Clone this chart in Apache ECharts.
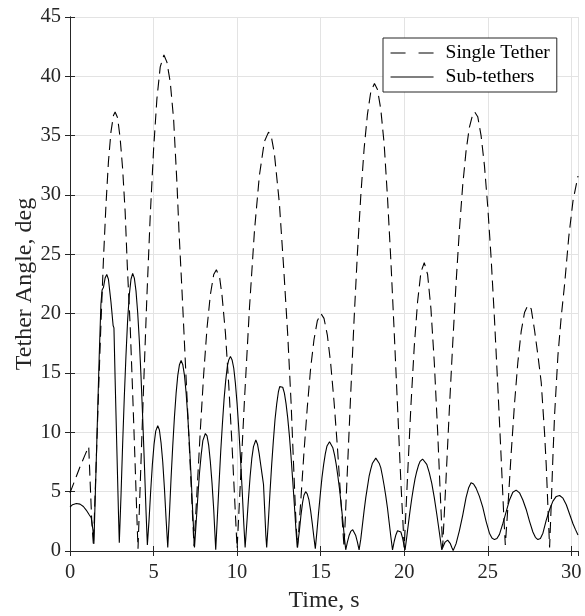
<!DOCTYPE html>
<html>
<head>
<meta charset="utf-8">
<script src="https://cdn.jsdelivr.net/npm/echarts@6/dist/echarts.min.js"></script>
<style>
html,body{margin:0;padding:0;background:#fff;}
#chart{width:585px;height:616px;}
</style>
</head>
<body>
<div id="chart"></div>
<script>
// Time (s) and tether angle (deg) pairs
var singleTether = [
[0,4.9],[0.3,6.0],[0.6,7.1],[0.9,8.1],[1.12,8.8],[1.2,6.0],[1.3,2.6],[1.4,0.5],
[1.55,6.7],[1.7,13.1],[1.85,19.1],[2.0,24.5],[2.15,29.1],[2.3,32.8],[2.45,35.3],[2.6,36.7],[2.7,37.0],
[2.85,36.5],[3.0,34.8],[3.15,32.2],[3.3,28.6],[3.43,24.0],[3.6,19.0],[3.75,13.3],[3.9,7.2],[4.0,3.0],[4.07,0.2],
[4.2,5.5],[4.4,13.7],[4.6,21.4],[4.8,28.2],[5.0,33.8],[5.2,38.1],[5.4,40.8],[5.62,41.8],
[5.8,41.2],[6.0,39.5],[6.2,36.4],[6.4,31.0],[6.52,27.0],[6.7,22.0],[6.9,16.0],[7.1,10.0],[7.3,4.0],[7.42,0.4],
[7.6,5.0],[7.8,10.2],[8.0,14.9],[8.2,18.8],[8.4,21.6],[8.6,23.3],[8.76,23.7],[8.96,23.0],[9.1,21.5],[9.3,18.4],[9.5,14.0],[9.7,8.8],[9.85,4.5],[10.0,0.2],
[10.2,5.9],[10.44,12.7],[10.74,20.5],[11.04,27.0],[11.33,31.6],[11.63,34.5],[11.88,35.3],[12.05,34.9],[12.23,33.5],[12.53,29.3],[12.79,23.8],[13.03,18.2],[13.23,12.5],[13.39,6.9],[13.53,2.2],[13.62,0.3],
[13.8,4.0],[14.0,8.3],[14.2,12.1],[14.4,15.4],[14.6,17.8],[14.8,19.4],[15.02,20.0],[15.2,19.6],[15.4,18.2],[15.6,15.8],[15.8,12.6],[16.0,8.8],[16.2,4.5],[16.4,0.3],
[16.6,6.8],[16.8,13.3],[17.0,19.5],[17.2,25.1],[17.4,29.9],[17.6,33.9],[17.8,36.8],[18.0,38.7],[18.22,39.4],[18.4,38.9],[18.6,37.2],[18.8,34.3],[19.0,29.8],[19.2,24.5],[19.4,18.5],[19.6,12.2],[19.8,5.8],[20.0,0.3],
[20.2,6.3],[20.4,12.2],[20.6,17.2],[20.8,21.0],[21.0,23.5],[21.2,24.3],[21.4,23.3],[21.6,20.4],[21.8,15.9],[22.0,10.1],[22.15,5.1],[22.3,0.3],
[22.5,6.0],[22.7,11.9],[22.9,17.4],[23.1,22.5],[23.3,27.0],[23.5,30.8],[23.7,33.7],[23.9,35.7],[24.1,36.8],[24.22,37.0],[24.4,36.6],[24.6,35.0],[24.8,32.5],[25.0,29.0],[25.2,24.7],[25.4,19.6],[25.6,13.9],[25.8,7.9],[25.95,3.2],[26.05,0.5],
[26.2,3.6],[26.4,8.2],[26.6,12.4],[26.8,15.9],[27.0,18.5],[27.2,20.1],[27.4,20.7],[27.6,20.4],[27.8,18.6],[28.0,16.5],[28.2,14.2],[28.4,9.9],[28.5,7.2],[28.6,3.7],[28.7,0.3],
[28.8,4.0],[28.9,8.0],[29.0,11.5],[29.2,16.5],[29.4,19.8],[29.6,22.5],[29.85,26.5],[30.1,29.5],[30.4,31.6]
];

var subTethers = [
[0,3.7],[0.15,3.9],[0.38,4.0],[0.6,3.95],[0.8,3.75],[0.97,3.45],[1.15,3.05],[1.27,2.8],[1.37,1.8],[1.43,0.6],
[1.55,6.5],[1.65,11.5],[1.75,16.5],[1.85,20.8],[1.92,22.0],[2.0,22.2],[2.1,23.0],[2.2,23.3],[2.3,22.9],[2.45,21.0],[2.58,19.0],[2.63,18.8],[2.7,14.5],[2.8,8.8],[2.9,3.2],[2.95,0.7],
[3.05,4.6],[3.15,9.0],[3.25,13.0],[3.35,16.5],[3.45,19.5],[3.55,21.6],[3.65,22.9],[3.75,23.4],[3.85,23.0],[3.95,21.9],[4.05,20.1],[4.15,17.7],[4.25,14.7],[4.35,11.2],[4.45,7.4],[4.55,3.3],[4.63,0.5],
[4.73,2.6],[4.83,5.1],[4.93,7.3],[5.03,9.0],[5.13,10.1],[5.25,10.55],[5.35,10.2],[5.45,9.1],[5.55,7.5],[5.65,5.3],[5.75,2.7],[5.85,0.3],
[5.95,3.1],[6.05,6.2],[6.15,8.9],[6.25,11.3],[6.35,13.3],[6.45,14.8],[6.55,15.7],[6.65,16.05],[6.75,15.7],[6.85,14.8],[6.95,13.3],[7.05,11.3],[7.15,8.9],[7.25,6.2],[7.35,3.1],[7.45,0.3],
[7.55,2.4],[7.65,4.6],[7.75,6.6],[7.85,8.1],[7.95,9.3],[8.1,9.9],[8.2,9.7],[8.3,8.9],[8.4,7.5],[8.5,5.7],[8.6,3.5],[8.72,0.1],
[8.82,2.9],[8.92,5.7],[9.02,8.4],[9.12,10.7],[9.22,12.8],[9.32,14.4],[9.42,15.6],[9.5,16.1],[9.6,16.4],[9.7,16.1],[9.8,15.4],[9.9,14.1],[10.0,12.4],[10.1,10.3],[10.2,7.9],[10.3,5.2],[10.4,2.3],[10.48,0.3],
[10.58,2.3],[10.68,4.4],[10.78,6.3],[10.88,7.8],[10.98,8.8],[11.12,9.35],[11.22,9.0],[11.32,8.2],[11.42,7.2],[11.52,6.2],[11.58,5.6],[11.65,3.5],[11.72,1.3],[11.77,0.3],
[11.87,2.5],[11.97,5.0],[12.07,7.3],[12.17,9.3],[12.27,11.1],[12.37,12.4],[12.47,13.4],[12.55,13.85],[12.63,14.0],[12.73,13.8],[12.83,13.3],[12.93,12.4],[13.03,11.2],[13.13,9.7],[13.23,7.9],[13.33,5.9],[13.43,3.8],[13.53,1.6],[13.6,0.3],
[13.72,1.6],[13.82,3.0],[13.92,4.1],[14.0,4.7],[14.1,5.0],[14.2,4.8],[14.3,4.3],[14.4,3.4],[14.5,2.3],[14.6,1.1],[14.68,0.2],
[14.78,1.7],[14.88,3.3],[14.98,4.8],[15.08,6.2],[15.18,7.3],[15.28,8.2],[15.38,8.85],[15.53,9.2],[15.63,9.1],[15.73,8.7],[15.83,8.1],[15.93,7.3],[16.03,6.3],[16.13,5.2],[16.23,3.9],[16.33,2.5],[16.43,1.0],[16.5,0.1],
[16.6,0.75],[16.7,1.3],[16.8,1.65],[16.92,1.8],[17.0,1.7],[17.1,1.3],[17.2,0.75],[17.3,0.1],
[17.4,1.0],[17.5,2.2],[17.6,3.4],[17.7,4.5],[17.8,5.4],[17.9,6.3],[18.0,6.9],[18.1,7.4],[18.3,7.83],[18.4,7.7],[18.5,7.4],[18.6,7.0],[18.7,6.3],[18.8,5.5],[18.9,4.6],[19.0,3.6],[19.1,2.4],[19.2,1.2],[19.3,0.1],
[19.4,0.8],[19.5,1.35],[19.6,1.7],[19.7,1.8],[19.8,1.6],[19.9,1.1],[20.0,0.4],[20.05,0.1],
[20.15,1.15],[20.25,2.3],[20.35,3.4],[20.45,4.4],[20.55,5.3],[20.65,6.1],[20.75,6.7],[20.85,7.2],[20.95,7.55],[21.1,7.75],[21.2,7.7],[21.35,7.3],[21.5,6.6],[21.65,5.7],[21.8,4.5],[21.95,3.1],[22.1,1.6],[22.25,0.1],
[22.35,0.45],[22.45,0.75],[22.6,0.92],[22.75,0.65],[22.85,0.3],[22.93,0.05],
[23.1,0.6],[23.3,1.7],[23.5,3.0],[23.7,4.5],[23.85,5.3],[24.0,5.75],[24.15,5.65],[24.3,5.3],[24.5,4.6],[24.7,3.7],[24.9,2.5],[25.1,1.5],[25.25,1.1],[25.4,0.96],[25.55,1.05],[25.7,1.4],[25.9,2.3],[26.1,3.3],[26.3,4.3],[26.5,4.95],[26.7,5.13],[26.9,4.9],[27.1,4.3],[27.3,3.5],[27.5,2.5],[27.7,1.6],[27.85,1.15],[28.0,0.96],[28.15,1.05],[28.3,1.5],[28.5,2.6],[28.7,3.5],[28.9,4.2],[29.1,4.6],[29.3,4.68],[29.5,4.45],[29.7,3.9],[29.9,3.1],[30.1,2.3],[30.25,1.8],[30.4,1.35]
];

var seriesNames = ['Single Tether', 'Sub-tethers'];
var xTitle = 'Time, s';
var yTitle = 'Tether Angle, deg';

var FONT = '"Liberation Serif", "Times New Roman", serif';
var INK = '#262626';

var chart = echarts.init(document.getElementById('chart'), null, {renderer: 'canvas'});
var mirrorAxis = {
  axisLine: {show: true, lineStyle: {color: INK, width: 1}},
  axisTick: {show: true, inside: true, length: 5, lineStyle: {color: INK}},
  axisLabel: {show: false},
  splitLine: {show: false}
};
chart.setOption({
  animation: false,
  backgroundColor: '#fff',
  grid: {left: 70, right: 7, top: 17, bottom: 65, containLabel: false, outerBoundsMode: 'none'},
  legend: {
    orient: 'vertical',
    left: 383, top: 38,
    padding: [3, 7, 3, 7],
    itemWidth: 43, itemHeight: 24, itemGap: 0,
    backgroundColor: '#fff',
    borderColor: INK, borderWidth: 1,
    itemStyle: {opacity: 0},
    textStyle: {fontFamily: FONT, fontSize: 19.5, color: '#000', lineHeight: 24, padding: [0, 0, 0, 7]},
    data: [
      {name: seriesNames[0], lineStyle: {type: [15, 13], width: 1.1, color: '#000'}},
      {name: seriesNames[1], lineStyle: {type: 'solid', width: 1.1, color: '#000'}}
    ]
  },
  xAxis: [{
    type: 'value', min: 0, max: 30.4, interval: 5, position: 'bottom',
    name: xTitle, nameLocation: 'middle', nameGap: 38, nameMoveOverlap: false,
    nameTextStyle: {fontFamily: FONT, fontSize: 24, color: INK},
    axisLine: {show: true, onZero: false, lineStyle: {color: INK, width: 1}},
    axisTick: {show: true, inside: true, length: 5, lineStyle: {color: INK}},
    axisLabel: {fontFamily: FONT, fontSize: 20.5, color: INK, margin: 11, showMaxLabel: false,
      formatter: function (v) { return (v % 5 === 0) ? String(v) : ''; }},
    splitLine: {show: true, lineStyle: {color: '#e3e3e3', width: 1}}
  }, Object.assign({type: 'value', min: 0, max: 30.4, interval: 5, position: 'top'}, mirrorAxis)],
  yAxis: [{
    type: 'value', min: 0, max: 45, interval: 5, position: 'left',
    name: yTitle, nameLocation: 'middle', nameGap: 33, nameMoveOverlap: false,
    nameTextStyle: {fontFamily: FONT, fontSize: 24, color: INK},
    axisLine: {show: true, onZero: false, lineStyle: {color: INK, width: 1}},
    axisTick: {show: true, inside: true, length: 5, lineStyle: {color: INK}},
    axisLabel: {fontFamily: FONT, fontSize: 20.5, color: INK, margin: 9},
    splitLine: {show: true, lineStyle: {color: '#e3e3e3', width: 1}}
  }, Object.assign({type: 'value', min: 0, max: 45, interval: 5, position: 'right'}, mirrorAxis)],
  series: [{
    name: seriesNames[0], type: 'line', xAxisIndex: 0, yAxisIndex: 0,
    data: singleTether, showSymbol: false, symbol: 'none',
    lineStyle: {color: '#000', width: 1.1, type: [11, 6]},
    itemStyle: {color: '#000'}
  }, {
    name: seriesNames[1], type: 'line', xAxisIndex: 0, yAxisIndex: 0,
    data: subTethers, showSymbol: false, symbol: 'none',
    lineStyle: {color: '#000', width: 1.1, type: 'solid'},
    itemStyle: {color: '#000'}
  }]
});
</script>
</body>
</html>
